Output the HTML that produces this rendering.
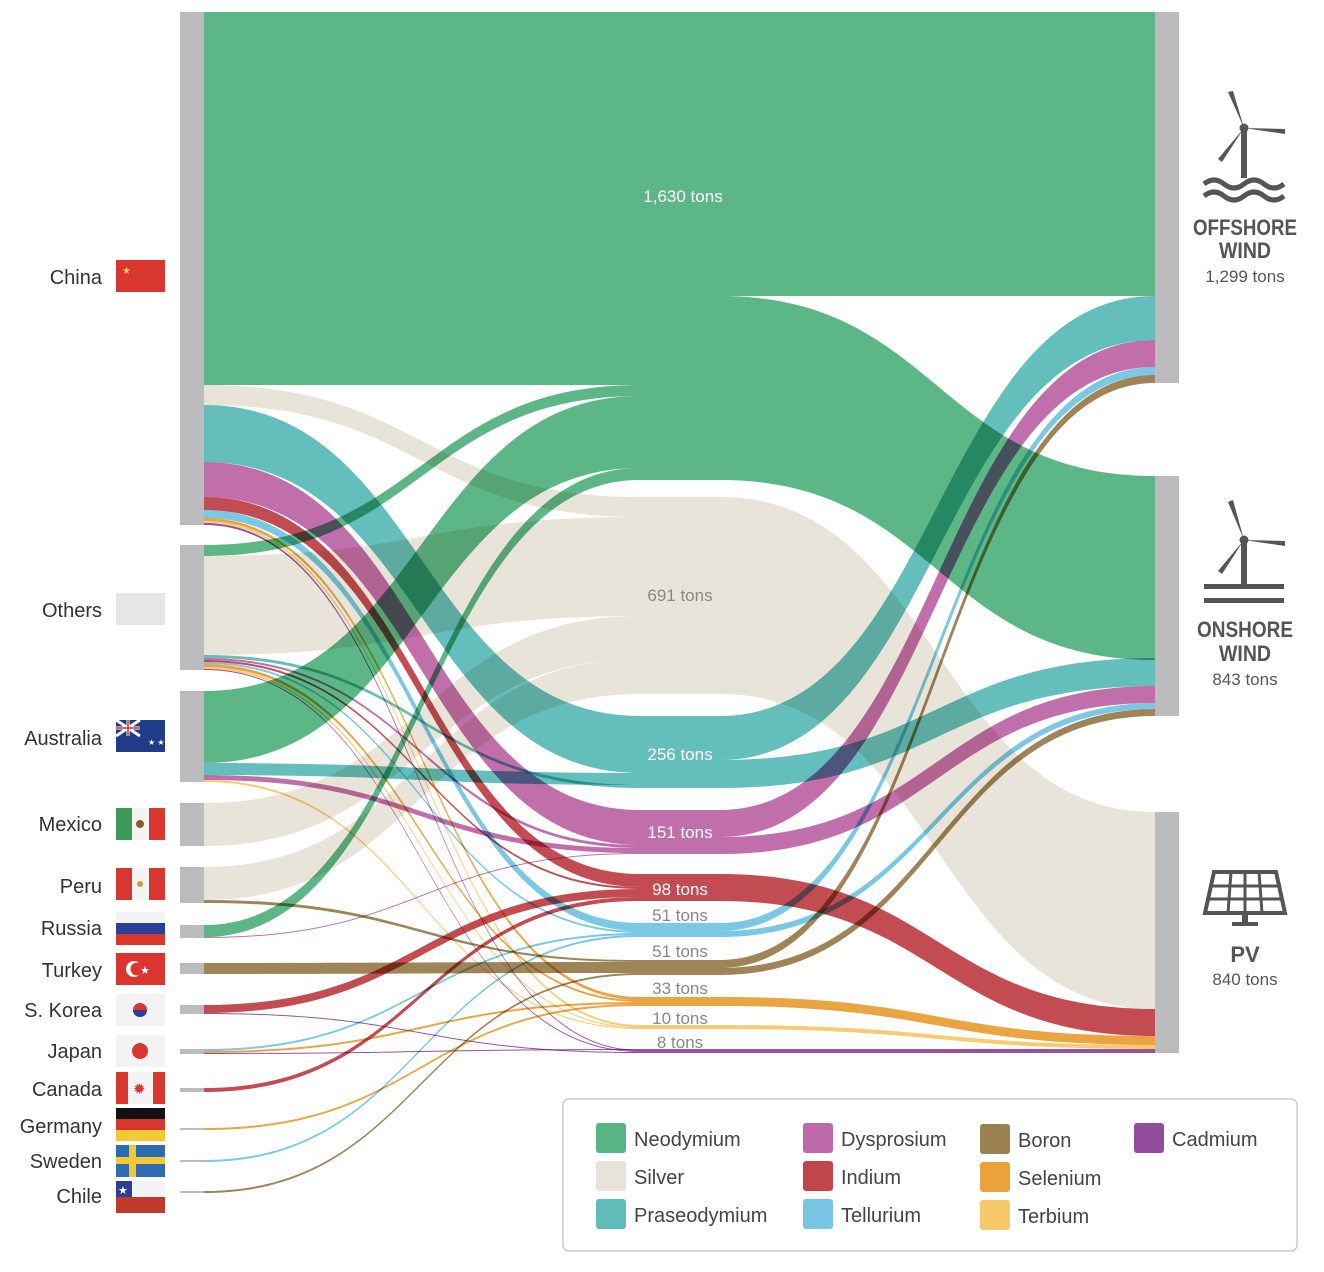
<!DOCTYPE html>
<html><head><meta charset="utf-8"><style>
body{margin:0;background:#fff;}
svg{display:block;font-family:"Liberation Sans",sans-serif;}
#flows path{mix-blend-mode:multiply;}
</style></head><body>
<svg id="s" width="1324" height="1272" viewBox="0 0 1324 1272" xmlns="http://www.w3.org/2000/svg">
<g id="flows" style="isolation:isolate"></g>
<g id="nodes"></g>
<g font-size="20" fill="#333" text-anchor="end">
<text x="102" y="284">China</text>
<text x="102" y="617">Others</text>
<text x="102" y="745">Australia</text>
<text x="102" y="831">Mexico</text>
<text x="102" y="893">Peru</text>
<text x="102" y="935">Russia</text>
<text x="102" y="977">Turkey</text>
<text x="102" y="1017">S. Korea</text>
<text x="102" y="1058">Japan</text>
<text x="102" y="1096">Canada</text>
<text x="102" y="1133">Germany</text>
<text x="102" y="1168">Sweden</text>
<text x="102" y="1203">Chile</text>
</g>
<g>
<rect x="116" y="260" width="49" height="32" fill="#d9362f"/><text x="122" y="274" font-size="10" fill="#f6d33a">★</text>
<rect x="116" y="593" width="49" height="32" fill="#e6e6e6"/>
<rect x="116" y="720" width="49" height="32" fill="#1f3c88"/><path d="M116 720 L140 736 M140 720 L116 736 M128 720 V736 M116 728 H140" stroke="#fff" stroke-width="3"/><path d="M128 720 V736 M116 728 H140" stroke="#d9362f" stroke-width="1.5"/><text x="148" y="745" font-size="8" fill="#fff">★ ★</text>
<rect x="116" y="808" width="16" height="32" fill="#3b9a5a"/><rect x="132" y="808" width="17" height="32" fill="#f3f3f3"/><rect x="149" y="808" width="16" height="32" fill="#d9362f"/><circle cx="140" cy="824" r="4" fill="#8a5a2a"/>
<rect x="116" y="868" width="16" height="32" fill="#d9362f"/><rect x="132" y="868" width="17" height="32" fill="#f3f3f3"/><rect x="149" y="868" width="16" height="32" fill="#d9362f"/><circle cx="140" cy="884" r="3" fill="#c8a040"/>
<rect x="116" y="912" width="49" height="11" fill="#f3f3f3"/><rect x="116" y="923" width="49" height="11" fill="#2c3e99"/><rect x="116" y="934" width="49" height="11" fill="#d9362f"/>
<rect x="116" y="953" width="49" height="32" fill="#d9362f"/><circle cx="134" cy="969" r="8" fill="#fff"/><circle cx="137" cy="969" r="6.5" fill="#d9362f"/><text x="140" y="974" font-size="11" fill="#fff">★</text>
<rect x="116" y="994" width="49" height="32" fill="#f3f3f3"/><circle cx="140" cy="1010" r="7" fill="#d9362f"/><path d="M133 1010 a7 7 0 0 0 14 0z" fill="#2c3e99"/>
<rect x="116" y="1035" width="49" height="32" fill="#f3f3f3"/><circle cx="140" cy="1051" r="8" fill="#d9362f"/>
<rect x="116" y="1072" width="49" height="32" fill="#f3f3f3"/><rect x="116" y="1072" width="12" height="32" fill="#d9362f"/><rect x="153" y="1072" width="12" height="32" fill="#d9362f"/><text x="133" y="1094" font-size="15" fill="#d9362f">✹</text>
<rect x="116" y="1108" width="49" height="11" fill="#111"/><rect x="116" y="1119" width="49" height="11" fill="#d9362f"/><rect x="116" y="1130" width="49" height="11" fill="#f6c831"/>
<rect x="116" y="1145" width="49" height="32" fill="#2d6cb0"/><rect x="116" y="1157" width="49" height="7" fill="#f6c831"/><rect x="129" y="1145" width="7" height="32" fill="#f6c831"/>
<rect x="116" y="1181" width="49" height="16" fill="#f3f3f3"/><rect x="116" y="1197" width="49" height="16" fill="#c0392b"/><rect x="116" y="1181" width="16" height="16" fill="#2c3e99"/><text x="118" y="1194" font-size="11" fill="#fff">★</text>
</g>
<g font-size="17" text-anchor="middle">
<text x="683" y="202" fill="#fff">1,630 tons</text>
<text x="680" y="601" fill="#888">691 tons</text>
<text x="680" y="760" fill="#fff">256 tons</text>
<text x="680" y="838" fill="#fff">151 tons</text>
<text x="680" y="895" fill="#fff">98 tons</text>
<text x="680" y="921" fill="#888">51 tons</text>
<text x="680" y="957" fill="#888">51 tons</text>
<text x="680" y="994" fill="#888">33 tons</text>
<text x="680" y="1024" fill="#888">10 tons</text>
<text x="680" y="1048" fill="#888">8 tons</text>
</g>
<g text-anchor="middle" fill="#555">
<text x="1245" y="235" font-size="22" font-weight="bold" textLength="104" lengthAdjust="spacingAndGlyphs">OFFSHORE</text>
<text x="1245" y="258" font-size="22" font-weight="bold" textLength="52" lengthAdjust="spacingAndGlyphs">WIND</text>
<text x="1245" y="282" font-size="17">1,299 tons</text>
<text x="1245" y="637" font-size="22" font-weight="bold" textLength="96" lengthAdjust="spacingAndGlyphs">ONSHORE</text>
<text x="1245" y="661" font-size="22" font-weight="bold" textLength="52" lengthAdjust="spacingAndGlyphs">WIND</text>
<text x="1245" y="685" font-size="17">843 tons</text>
<text x="1245" y="962" font-size="22" font-weight="bold">PV</text>
<text x="1245" y="985" font-size="17">840 tons</text>
</g>
<g fill="#555" stroke="#555">
<rect x="1241" y="128" width="6" height="50" stroke="none"/>
<path d="M1244 128 L1228 92 L1233 91 Z M1244 128 L1285 134 L1285 129 Z M1244 128 L1222 162 L1218 159 Z" stroke="none"/>
<circle cx="1244" cy="128" r="4"/>
<path d="M1204 184 q10 -8 20 0 t20 0 t20 0 t20 0 M1204 196 q10 -8 20 0 t20 0 t20 0 t20 0" fill="none" stroke-width="5"/>
<rect x="1241" y="540" width="6" height="45" stroke="none"/>
<path d="M1244 540 L1228 502 L1233 500 Z M1244 540 L1285 546 L1285 541 Z M1244 540 L1222 574 L1218 571 Z" stroke="none"/>
<circle cx="1244" cy="540" r="4"/>
<rect x="1204" y="584" width="80" height="5" stroke="none"/><rect x="1204" y="598" width="80" height="5" stroke="none"/>
<path d="M1214 872 L1276 872 L1285 913 L1205 913 Z" fill="none" stroke-width="4"/>
<path d="M1231 872 L1228 913 M1245 872 V913 M1259 872 L1262 913 M1209 886 H1281 M1207 899 H1283" stroke-width="3"/>
<rect x="1242" y="913" width="6" height="10" stroke="none"/><rect x="1232" y="922" width="26" height="4" stroke="none"/>
</g>
<rect x="563" y="1099" width="734" height="152" rx="6" fill="#fff" stroke="#ccc" stroke-width="1.5"/>
<g font-size="20" fill="#444" id="leg"></g>
</svg>
<script>
const C={nd:"#58b482",ag:"#e8e3d8",pr:"#5fbcb9",dy:"#bf6aa8",in:"#c0464b",te:"#76c6e3",b:"#9b8052",se:"#e9a23c",tb:"#f7c96a",cd:"#934b9d"};
const F=document.getElementById('flows');
function band(x0,a0,b0,x1,a1,b1,c,ext){const xm=(x0+x1)/2;
const p=document.createElementNS("http://www.w3.org/2000/svg","path");
const e=ext?` H${ext} V${b1} H${x1}`:` L${x1} ${b1}`;
p.setAttribute("d",`M${x0} ${a0} C${xm} ${a0} ${xm} ${a1} ${x1} ${a1}`+(ext?` H${ext} V${b1} H${x1}`:` L${x1} ${b1}`)+` C${xm} ${b1} ${xm} ${b0} ${x0} ${b0} Z`);
p.setAttribute("fill",C[c]);p.setAttribute("fill-opacity",0.97);F.appendChild(p);}
const L=[
["ag",385,405,497,517],["ag",556,655,517,616],["ag",803,846,616,659],["ag",867,900,659,694],
["nd",12,385,12,385],["nd",545,556,385,396],["nd",691,763,396,468],["nd",925,937,468,480],
["pr",405,462,716,773],["pr",655,658,785,788],["pr",763,775,773,785],
["dy",462,497,810,845],["dy",658,660,845,848],["dy",775,780,848,853],["dy",937,938,853,854],
["in",497,510,874,887],["in",660,662,887,889],["in",1005,1013,889,897],["in",1088,1092,897,901],
["te",510,518,923,931],["te",662,664,931,933],["te",1049,1051,933,935],["te",1160,1162,935,937],
["b",900,903,960,962],["b",963,974,962,973],["b",1191,1193,973,975],
["se",518,521,997,1000],["se",664,667,1000,1002],["se",1051,1053,1002,1004],["se",1128,1130,1004,1006],
["tb",521,523,1025,1027],["tb",667,669,1027,1028],["tb",780,782,1028,1029],
["cd",523,525,1050,1051],["cd",669,670,1051,1052],["cd",1013,1014,1052,1053],["cd",1053,1054,1049,1050]];
const R=[
["ag",497,694,812,1009],
["nd",12,296,12,296],["nd",296,480,476,660],
["pr",716,760,296,340],["pr",760,788,658,686],
["dy",810,837,340,367],["dy",837,854,686,703],
["in",874,901,1009,1036],
["te",923,931,367,375],["te",931,937,703,709],
["b",960,968,375,383],["b",968,975,709,716],
["se",997,1006,1036,1045],
["tb",1025,1029,1045,1049],["cd",1049,1053,1049,1053]];
for(const f of L)band(204,f[1],f[2],640,f[3],f[4],f[0],720);
for(const f of R)band(720,f[1],f[2],1155,f[3],f[4],f[0]);
const N=document.getElementById('nodes');
[[180,12,525],[180,545,670],[180,691,782],[180,803,846],[180,867,903],[180,925,938],[180,963,974],[180,1005,1014],[180,1049,1054],[180,1088,1092],[180,1128,1130],[180,1160,1162],[180,1191,1193],[1155,12,383],[1155,476,716],[1155,812,1053]].forEach(n=>{const r=document.createElementNS("http://www.w3.org/2000/svg","rect");r.setAttribute("x",n[0]);r.setAttribute("width",24);r.setAttribute("y",n[1]);r.setAttribute("height",n[2]-n[1]);r.setAttribute("fill","#bcbcbe");N.appendChild(r);});
const G=document.getElementById('leg');
[["nd","Neodymium",596,1123],["ag","Silver",596,1161],["pr","Praseodymium",596,1199],["dy","Dysprosium",803,1123],["in","Indium",803,1161],["te","Tellurium",803,1199],["b","Boron",980,1124],["se","Selenium",980,1162],["tb","Terbium",980,1200],["cd","Cadmium",1134,1123]].forEach(l=>{
G.insertAdjacentHTML('beforeend',`<rect x="${l[2]}" y="${l[3]}" width="30" height="30" rx="3" fill="${C[l[0]]}"/><text x="${l[2]+38}" y="${l[3]+23}">${l[1]}</text>`);});
</script>
</body></html>
